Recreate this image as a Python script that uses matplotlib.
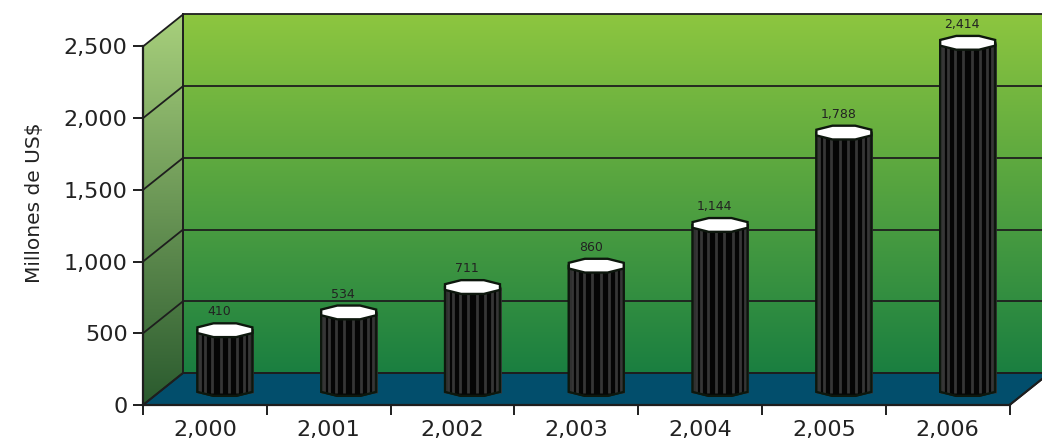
import numpy as np
import matplotlib
matplotlib.use("Agg")
import matplotlib.pyplot as plt
from matplotlib.colors import LinearSegmentedColormap
from matplotlib.patches import Polygon

# data
years = ["2,000", "2,001", "2,002", "2,003", "2,004", "2,005", "2,006"]
values = [410, 534, 711, 860, 1144, 1788, 2414]
value_labels = ["410", "534", "711", "860", "1,144", "1,788", "2,414"]
yticks = [0, 500, 1000, 1500, 2000, 2500]
ytick_labels = ["0", "500", "1,000", "1,500", "2,000", "2,500"]

plt.rcParams['font.family'] = ['DejaVu Sans']
txt = '#222222'
edge = '#1e1e1e'

# fake 3d depth offsets (category units / value units)
dx = 0.323
dy = 223.0
ymax_axis = 2500
n = len(years)
xmax = 7.262
ytop = 2824

fig = plt.figure(figsize=(10.42, 4.40), dpi=100)
ax = fig.add_axes([143 / 1042, 35 / 440, 1 - 143 / 1042, 1 - 35 / 440])
ax.set_xlim(0, xmax)
ax.set_ylim(0, ytop)

# back wall gradient
wall_cmap = LinearSegmentedColormap.from_list('wall', ['#1a7f41', '#8dc63f'])
grad = np.linspace(0, 1, 256).reshape(-1, 1)
ax.imshow(grad, cmap=wall_cmap, origin='lower', aspect='auto',
          extent=[dx, xmax, dy, ymax_axis + dy], zorder=1)

# left wall gradient, clipped to the parallelogram
side_cmap = LinearSegmentedColormap.from_list('side', ['#2a5a2e', '#a8d07c'])
side = Polygon([(0, 0), (dx, dy), (dx, ymax_axis + dy), (0, ymax_axis)],
               closed=True, facecolor='none', edgecolor='none')
ax.add_patch(side)
im = ax.imshow(grad, cmap=side_cmap, origin='lower', aspect='auto',
               extent=[0, dx, 0, ymax_axis + dy], zorder=1)
im.set_clip_path(side)

# floor
floor = Polygon([(0, 0), (n, 0), (n + dx, dy), (dx, dy)], closed=True,
                facecolor='#024e6c', edgecolor=edge, lw=1.4, zorder=2)
ax.add_patch(floor)

# grid lines on the walls
for v in yticks:
    ax.plot([dx, xmax], [v + dy, v + dy], color=edge, lw=1.3, zorder=3)
    ax.plot([0, dx], [v, v + dy], color=edge, lw=1.3, zorder=3)
ax.plot([dx, dx], [dy, ymax_axis + dy], color=edge, lw=1.4, zorder=3)

# octagonal columns
half_w = 0.222
cap_h = 52
ang = np.deg2rad(np.arange(0, 360, 45) + 22.5)
for i, v in enumerate(values):
    cx = i + 0.5 + dx / 2
    base = dy / 2
    top = base + v
    ox = cx + half_w * np.cos(ang) / np.cos(np.deg2rad(22.5))
    ox = np.clip(ox, cx - half_w, cx + half_w)
    oy = cap_h * np.sin(ang)
    # front half of octagon (lower on screen)
    front = [(x, y) for x, y in zip(ox, oy) if y < 0]
    front = sorted(front, key=lambda p: p[0])
    body = [(cx - half_w, top)] + [(cx - half_w, base)]
    body += [(x, base + y) for x, y in front]
    body += [(cx + half_w, base), (cx + half_w, top)]
    ax.add_patch(Polygon(body, closed=True, facecolor='#050505',
                         edgecolor='#0d170d', lw=1.5, zorder=4))
    # stripes
    for t in np.linspace(np.pi * 1.05, np.pi * 1.95, 10):
        sx = cx + half_w * np.cos(t)
        ax.plot([sx, sx], [base - cap_h * 0.6, top], color='#363636',
                lw=2.0, zorder=5, solid_capstyle='butt')
    ax.add_patch(Polygon(body, closed=True, facecolor='none',
                         edgecolor='#0d170d', lw=1.6, zorder=6))
    # cap
    cap = [(x, top + y) for x, y in zip(ox, oy)]
    ax.add_patch(Polygon(cap, closed=True, facecolor='white',
                         edgecolor='#0d170d', lw=1.7, zorder=7))
    ax.text(cx - 0.045, top + 128, value_labels[i], ha='center', va='center',
            fontsize=9, color=txt, zorder=8)

# axes styling
for s in ['top', 'right']:
    ax.spines[s].set_visible(False)
ax.spines['left'].set_bounds(0, ymax_axis)
ax.spines['bottom'].set_bounds(0, n)
for s in ['left', 'bottom']:
    ax.spines[s].set_linewidth(1.6)
    ax.spines[s].set_color(edge)
    ax.spines[s].set_zorder(9)
ax.plot([n, n + dx], [0, dy], color=edge, lw=1.4, zorder=9, clip_on=False)

ax.set_yticks(yticks)
ax.set_yticklabels(ytick_labels)
ax.set_xticks(np.arange(0, n + 1))
ax.set_xticklabels([])
ax.set_xticks(np.arange(n) + 0.5, minor=True)
ax.set_xticklabels(years, minor=True)
ax.tick_params(axis='both', which='major', direction='out', length=7,
               width=1.4, color=edge, labelsize=16, labelcolor=txt)
ax.tick_params(axis='x', which='minor', length=0, labelsize=16,
               labelcolor=txt, pad=11)
ax.tick_params(axis='y', pad=4)
ax.set_ylabel('Millones de US$', fontsize=14.5, color=txt, labelpad=14)

fig.savefig('out.png', dpi=100)
